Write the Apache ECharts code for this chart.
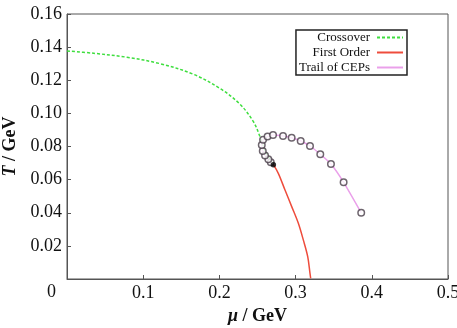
<!DOCTYPE html>
<html>
<head>
<meta charset="utf-8">
<script src="https://cdn.jsdelivr.net/npm/echarts@6/dist/echarts.min.js"></script>
<style>
  html, body { margin: 0; padding: 0; background: #fff; }
  #chart { width: 457px; height: 328px; }
</style>
</head>
<body>
<div id="chart"></div>
<script>
// data: [mu, T] in GeV
const crossover = [
  [0, 0.1377], [0.0349, 0.1363], [0.0786, 0.1339], [0.1223, 0.1300],
  [0.1660, 0.1236], [0.2009, 0.1150], [0.2271, 0.1055], [0.2446, 0.0950],
  [0.2533, 0.0859], [0.2585, 0.0790], [0.2640, 0.0742], [0.2708, 0.0690]
];
const firstOrder = [
  [0.2708, 0.0690], [0.2773, 0.0638], [0.2861, 0.0537], [0.2949, 0.0437],
  [0.3036, 0.0336], [0.3101, 0.0236], [0.3159, 0.0135], [0.3189, 0.0034],
  [0.3198, 0.0004]
];
const cep = [[0.2708, 0.0690]];
const trailPoints = [
  [0.2674, 0.0705], [0.2642, 0.0723], [0.2599, 0.0745], [0.2569, 0.0773],
  [0.2556, 0.0809], [0.2573, 0.0841], [0.2632, 0.0860], [0.2704, 0.0870],
  [0.2835, 0.0864], [0.2948, 0.0853], [0.3067, 0.0833], [0.3189, 0.0803],
  [0.3324, 0.0753], [0.3464, 0.0694], [0.3630, 0.0584], [0.3861, 0.0400]
];
const legendNames = ['Crossover', 'First Order', 'Trail of CEPs'];

const chart = echarts.init(document.getElementById('chart'));
const serif = 'Liberation Serif';

const nameStyle = {
  fontFamily: serif, fontSize: 18, fontWeight: 'bold', color: '#111',
  rich: { i: { fontFamily: serif, fontSize: 18, fontWeight: 'bold', fontStyle: 'italic', color: '#111' } }
};

const option = {
  animation: false,
  textStyle: { fontFamily: serif, color: '#111' },
  grid: {
    left: 67, right: 9, top: 14, bottom: 49,
    outerBoundsMode: 'none',
    show: true, borderColor: '#555', borderWidth: 1
  },
  legend: {
    data: legendNames,
    orient: 'vertical',
    align: 'right',
    right: 50, top: 30,
    padding: [1, 3, 1, 3],
    itemGap: 2,
    itemWidth: 26,
    itemHeight: 14,
    borderColor: '#222',
    borderWidth: 1.5,
    itemStyle: { opacity: 0 },
    textStyle: { fontFamily: serif, fontSize: 13, color: '#111', padding: [0, 2, 0, 0] }
  },
  xAxis: {
    type: 'value', min: 0, max: 0.5, interval: 0.1,
    name: '{i|μ} / GeV',
    nameLocation: 'middle', nameGap: 26,
    nameTextStyle: nameStyle,
    axisLine: { lineStyle: { color: '#555', width: 1 } },
    axisTick: { inside: true, length: 4, lineStyle: { color: '#555' } },
    splitLine: { show: false },
    axisLabel: {
      fontFamily: serif, fontSize: 18, color: '#111', margin: 5,
      formatter: v => (v === 0 ? '' : v.toFixed(1))
    }
  },
  yAxis: {
    type: 'value', min: 0, max: 0.16, interval: 0.02,
    name: '{i|T} / GeV',
    nameLocation: 'middle', nameGap: 47,
    nameTextStyle: nameStyle,
    axisLine: { lineStyle: { color: '#555', width: 1 } },
    axisTick: { inside: true, length: 4, lineStyle: { color: '#555' } },
    splitLine: { show: false },
    axisLabel: {
      fontFamily: serif, fontSize: 18, color: '#111', margin: 5,
      formatter: v => (v === 0 ? '' : v.toFixed(2))
    }
  },
  graphic: [{
    type: 'text', left: 47, top: 283,
    style: { text: '0', font: '18px "Liberation Serif"', fill: '#111' }
  }],
  series: [
    {
      name: 'Crossover', type: 'line', data: crossover, smooth: 0.35,
      symbol: 'none', z: 2,
      lineStyle: { color: '#3ede3e', width: 1.5, type: [3, 2] },
      itemStyle: { color: '#3ede3e' }
    },
    {
      name: 'First Order', type: 'line', data: firstOrder, smooth: 0.35,
      symbol: 'none', z: 2,
      lineStyle: { color: '#ee4c3c', width: 1.5 },
      itemStyle: { color: '#ee4c3c' }
    },
    {
      name: 'Trail of CEPs', type: 'line', data: cep.concat(trailPoints), smooth: 0.25,
      symbol: 'none', z: 3,
      lineStyle: { color: '#eaa0ea', width: 1.5 },
      itemStyle: { color: '#eaa0ea' }
    },
    {
      name: 'trail markers', type: 'scatter', data: trailPoints,
      symbol: 'circle', symbolSize: 6.5, z: 4,
      itemStyle: { color: '#fff', borderColor: '#4a3f4a', borderWidth: 1.5 }
    },
    {
      name: 'cep', type: 'scatter', data: cep,
      symbol: 'circle', symbolSize: 5.5, z: 5,
      itemStyle: { color: '#000' }
    }
  ]
};
chart.setOption(option);
</script>
</body>
</html>
